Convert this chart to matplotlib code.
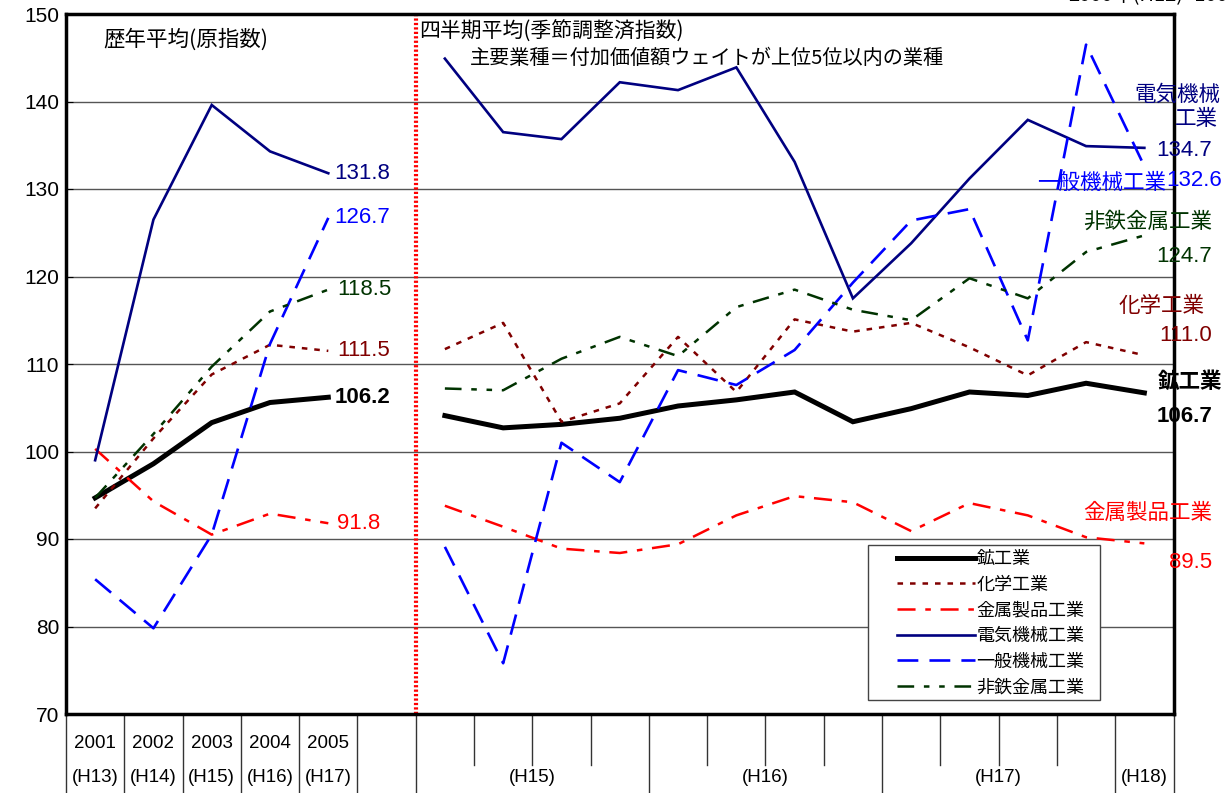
import matplotlib
matplotlib.use('Agg')
import matplotlib.pyplot as plt
import matplotlib.transforms as mtransforms
from matplotlib.patches import Rectangle

plt.rcParams['font.family'] = ['Liberation Sans', 'Noto Sans CJK JP']
plt.rcParams['lines.scale_dashes'] = False

# 歴年平均 (2001-2005)
years = ['2001', '2002', '2003', '2004', '2005']
year_eras = ['(H13)', '(H14)', '(H15)', '(H16)', '(H17)']

mining_y = [94.7, 98.6, 103.3, 105.6, 106.2]
chem_y = [93.5, 101.5, 108.8, 112.2, 111.5]
metal_y = [100.3, 94.3, 90.5, 92.9, 91.8]
elec_y = [99.0, 126.5, 139.6, 134.3, 131.8]
gen_y = [85.4, 79.8, 90.5, 112.3, 126.7]
nonfer_y = [94.7, 102.0, 109.7, 116.0, 118.5]

# 四半期平均 (H15 Q1 - H18 Q1)
quarter_groups = ['(H15)', '(H16)', '(H17)', '(H18)']
quarter_counts = [4, 4, 4, 1]

mining_q = [104.1, 102.7, 103.1, 103.8, 105.2, 105.9, 106.8, 103.4, 104.9, 106.8, 106.4, 107.8, 106.7]
chem_q = [111.7, 114.7, 103.4, 105.5, 113.1, 106.8, 115.1, 113.7, 114.7, 111.9, 108.7, 112.5, 111.0]
metal_q = [93.8, 91.4, 88.9, 88.4, 89.4, 92.7, 94.9, 94.2, 90.9, 94.1, 92.7, 90.2, 89.5]
elec_q = [144.9, 136.5, 135.7, 142.2, 141.3, 143.9, 133.1, 117.5, 123.8, 131.2, 137.9, 134.9, 134.7]
gen_q = [89.1, 75.8, 101.0, 96.5, 109.3, 107.6, 111.6, 119.3, 126.4, 127.7, 112.7, 146.5, 132.6]
nonfer_q = [107.2, 107.0, 110.6, 113.1, 110.9, 116.5, 118.5, 116.2, 115.0, 119.8, 117.5, 122.8, 124.7]

names = ['鉱工業', '化学工業', '金属製品工業', '電気機械工業', '一般機械工業', '非鉄金属工業']
annual = [mining_y, chem_y, metal_y, elec_y, gen_y, nonfer_y]
quarterly = [mining_q, chem_q, metal_q, elec_q, gen_q, nonfer_q]
styles = [
    dict(color='black', lw=3.6, ls='-'),
    dict(color='#800000', lw=1.8, ls=(0, (4, 5))),
    dict(color='#ff0000', lw=1.8, ls=(0, (13, 7, 4, 7))),
    dict(color='#000080', lw=1.9, ls='-'),
    dict(color='#0000ff', lw=1.9, ls=(0, (15, 8))),
    dict(color='#003300', lw=1.8, ls=(0, (12, 7, 4, 7, 4, 7))),
]

n_year = len(years)
q_start = n_year + 1
n_q = len(mining_q)
n_slots = q_start + n_q

fig = plt.figure(figsize=(12.28, 7.93), dpi=100)
ax = fig.add_axes([66 / 1228, 1 - 714 / 793, 1107.5 / 1228, 700 / 793])

xa = [i + 0.5 for i in range(n_year)]
xq = [q_start + i + 0.5 for i in range(n_q)]
handles = []
for name, ya, yq, st in zip(names, annual, quarterly, styles):
    ax.plot(xa, ya, solid_joinstyle='miter', **st)
    h, = ax.plot(xq, yq, label=name, solid_joinstyle='miter', **st)
    handles.append(h)

ax.set_xlim(0, n_slots)
ax.set_ylim(70, 150)
ax.set_yticks(range(70, 151, 10))
ax.tick_params(axis='y', direction='in', length=5, labelsize=15, pad=5)
ax.set_xticks([])
for v in range(80, 150, 10):
    ax.axhline(v, color='#555555', lw=1.0, zorder=0)
for s in ax.spines.values():
    s.set_linewidth(2.5)

# separator between annual and quarterly parts
ax.axvline(q_start, color='#ff0000', lw=3, ls=(0, (1.6, 1.6)))

# bottom category area
trans = mtransforms.blended_transform_factory(ax.transData, fig.transFigure)
y_top = 1 - 714 / 793
y_short = 1 - 765 / 793
for i in range(q_start + 1):
    ax.plot([i, i], [0, y_top], transform=trans, color='#333333', lw=1, clip_on=False)
for i, (yr, era) in enumerate(zip(years, year_eras)):
    ax.text(i + 0.5, 0.063, yr, transform=trans, fontsize=13.5, ha='center', va='center')
    ax.text(i + 0.5, 0.019, era, transform=trans, fontsize=13.5, ha='center', va='center')
pos = q_start
for grp, cnt in zip(quarter_groups, quarter_counts):
    for k in range(1, cnt):
        ax.plot([pos + k, pos + k], [y_short, y_top], transform=trans, color='#333333', lw=1, clip_on=False)
    ax.plot([pos + cnt, pos + cnt], [0, y_top], transform=trans, color='#333333', lw=1, clip_on=False)
    ax.text(pos + cnt / 2, 0.019, grp, transform=trans, fontsize=13.5, ha='center', va='center')
    pos += cnt

jp = ['Noto Sans CJK JP']


def ptext(x, y, s, **kw):
    fig.text(x / 1228, 1 - y / 793, s, **kw)


ptext(103, 40, '歴年平均(原指数)', fontsize=15.5, family=jp, va='center')
ptext(419, 32, '四半期平均(季節調整済指数)', fontsize=15, family=jp, va='center')
ptext(470, 58, '主要業種＝付加価値額ウェイトが上位5位以内の業種', fontsize=14.5, family=jp, va='center')
ptext(1068, 6, '2000年(H12)=100', fontsize=14.5, family=jp, va='bottom')

# end labels, annual part
ax.text(xa[-1] + 0.1, elec_y[-1], f'{elec_y[-1]:.1f}', color='#000080', fontsize=16, va='center', ha='left')
ax.text(xa[-1] + 0.1, gen_y[-1], f'{gen_y[-1]:.1f}', color='#0000ff', fontsize=16, va='center', ha='left')
ax.text(xa[-1] + 0.15, nonfer_y[-1], f'{nonfer_y[-1]:.1f}', color='#003300', fontsize=16, va='center', ha='left')
ax.text(xa[-1] + 0.15, chem_y[-1], f'{chem_y[-1]:.1f}', color='#800000', fontsize=16, va='center', ha='left')
ax.text(xa[-1] + 0.1, mining_y[-1], f'{mining_y[-1]:.1f}', color='black', fontsize=16, va='center', ha='left', weight='bold')
ax.text(xa[-1] + 0.15, metal_y[-1], f'{metal_y[-1]:.1f}', color='#ff0000', fontsize=16, va='center', ha='left')

# end labels, quarterly part
ptext(1220, 95, '電気機械', color='#000080', fontsize=15.5, family=jp, ha='right', va='center')
ptext(1218, 119, '工業', color='#000080', fontsize=15.5, family=jp, ha='right', va='center')
ptext(1212, 151, f'{elec_q[-1]:.1f}', color='#000080', fontsize=16, ha='right', va='center')
ptext(1166, 183, '一般機械工業', color='#0000ff', fontsize=15.5, family=jp, ha='right', va='center')
ptext(1222, 181, f'{gen_q[-1]:.1f}', color='#0000ff', fontsize=16, ha='right', va='center')
ptext(1212, 222, '非鉄金属工業', color='#003300', fontsize=15.5, family=jp, ha='right', va='center')
ptext(1212, 256, f'{nonfer_q[-1]:.1f}', color='#003300', fontsize=16, ha='right', va='center')
ptext(1205, 306, '化学工業', color='#800000', fontsize=15.5, family=jp, ha='right', va='center')
ptext(1212, 336, f'{chem_q[-1]:.1f}', color='#800000', fontsize=16, ha='right', va='center')
ptext(1222, 381, '鉱工業', color='black', fontsize=15.5, family=jp, ha='right', va='center', weight='bold')
ptext(1212, 416, f'{mining_q[-1]:.1f}', color='black', fontsize=16, ha='right', va='center', weight='bold')
ptext(1212, 513, '金属製品工業', color='#ff0000', fontsize=15.5, family=jp, ha='right', va='center')
ptext(1212, 563, f'{metal_q[-1]:.1f}', color='#ff0000', fontsize=16, ha='right', va='center')

# legend: separate frame so the handles can sit further in from the left edge
ax.add_patch(Rectangle(((868 - 66) / 1107.5, 14 / 700), 232 / 1107.5, 155 / 700,
                       transform=ax.transAxes, facecolor='white', edgecolor='#444444',
                       lw=1.0, zorder=5))
leg = ax.legend(handles=handles, loc='upper left', bbox_to_anchor=((897 - 66) / 1107.5, 0.234),
                prop={'family': jp, 'size': 13}, handlelength=4.3, handletextpad=0.1,
                labelspacing=0.42, borderpad=0, frameon=False, borderaxespad=0)
leg.set_zorder(6)

fig.savefig('out.png', dpi=100)
